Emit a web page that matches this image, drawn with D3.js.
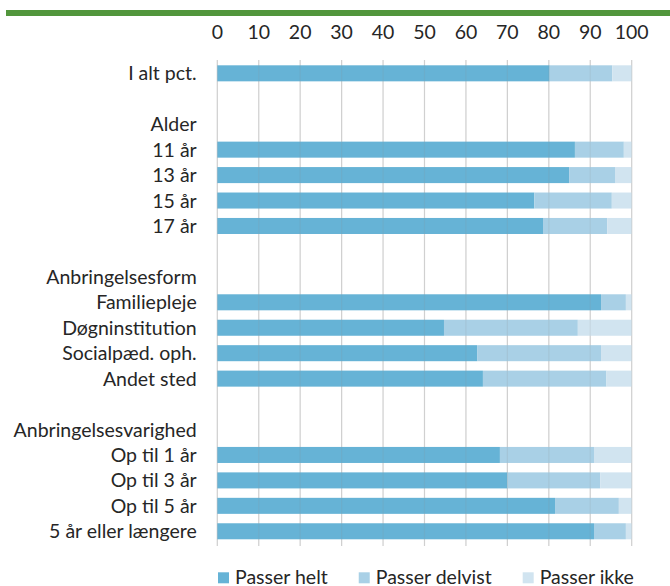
<!DOCTYPE html>
<html>
<head>
<meta charset="utf-8">
<script src="https://cdn.jsdelivr.net/npm/d3@7"></script>
<style>
  body { margin: 0; background: #fff; }
  text { font-family: Lato, "Open Sans", sans-serif; fill: #262626; }
</style>
</head>
<body>
<svg class="chart" width="670" height="586"></svg>
<script>
// rows, top to bottom; headings and blank spacer rows have no values
const labels = ["I alt pct.", "", "Alder", "11 år", "13 år", "15 år", "17 år", "",
  "Anbringelsesform", "Familiepleje", "Døgninstitution", "Socialpæd. oph.", "Andet sted", "",
  "Anbringelsesvarighed", "Op til 1 år", "Op til 3 år", "Op til 5 år", "5 år eller længere"];

const passerHelt    = [80.2, null, null, 86.3, 84.9, 76.5, 78.6, null, null, 92.6, 54.7, 62.7, 64.1, null, null, 68.2, 70.0, 81.5, 90.9];
const passerDelvist = [15.1, null, null, 11.8, 11.2, 18.7, 15.5, null, null,  6.0, 32.3, 29.9, 29.8, null, null, 22.7, 22.4, 15.4,  7.7];
const passerIkke    = [ 4.7, null, null,  1.9,  3.9,  4.8,  5.9, null, null,  1.4, 13.0,  7.4,  6.1, null, null,  9.1,  7.6,  3.1,  1.4];

const seriesNames = ["Passer helt", "Passer delvist", "Passer ikke"];
const colors = ["#66b3d6", "#a9d0e6", "#d1e4f0"];
const ticks = [0, 10, 20, 30, 40, 50, 60, 70, 80, 90, 100];

const svg = d3.select(".chart");
const width = +svg.attr("width");
const fontSize = 19.5;

// top green rule
svg.append("rect")
   .attr("x", 6).attr("y", 10)
   .attr("width", width - 6).attr("height", 6)
   .attr("fill", "#52963c");

const x = d3.scaleLinear().domain([0, 100]).range([217.3, 631.7]);
const y = d3.scaleBand()
            .domain(labels.map((d, i) => i))
            .range([60.6, 544.0])
            .paddingInner(0.37)
            .paddingOuter(0.185);

// gridlines behind
svg.append("g").selectAll("line")
   .data(ticks).join("line")
   .attr("x1", d => x(d)).attr("x2", d => x(d))
   .attr("y1", 60).attr("y2", 546)
   .attr("stroke", "#dcdcdc").attr("stroke-width", 1.2);

// stacked bars
const rows = labels.map((l, i) => ({ i, vals: [passerHelt[i], passerDelvist[i], passerIkke[i]] }))
                   .filter(r => r.vals[0] !== null);
const g = svg.append("g");
rows.forEach(r => {
  let start = 0;
  r.vals.forEach((v, k) => {
    g.append("rect")
     .attr("x", x(start))
     .attr("y", y(r.i))
     .attr("width", x(start + v) - x(start))
     .attr("height", y.bandwidth())
     .attr("fill", colors[k]);
    start += v;
  });
});

// faint gridlines showing through bars
svg.append("g").selectAll("line")
   .data(ticks).join("line")
   .attr("x1", d => x(d)).attr("x2", d => x(d))
   .attr("y1", 60).attr("y2", 546)
   .attr("stroke", "#8a8a8a").attr("stroke-opacity", 0.15).attr("stroke-width", 1.2);

// top axis labels
svg.append("g").selectAll("text")
   .data(ticks).join("text")
   .attr("x", d => x(d))
   .attr("y", 39)
   .attr("text-anchor", "middle")
   .attr("font-size", fontSize)
   .text(d => d);

// category labels
svg.append("g").selectAll("text")
   .data(labels.map((l, i) => ({ l, i })).filter(d => d.l !== ""))
   .join("text")
   .attr("x", 196.7)
   .attr("y", d => y(d.i) + y.bandwidth() / 2)
   .attr("dy", "0.36em")
   .attr("text-anchor", "end")
   .attr("font-size", fontSize)
   .text(d => d.l);

// legend
let lx = 218;
seriesNames.forEach((name, k) => {
  svg.append("rect")
     .attr("x", lx).attr("y", 572.3)
     .attr("width", 11).attr("height", 11)
     .attr("fill", colors[k]);
  const t = svg.append("text")
     .attr("x", lx + 17).attr("y", 583.5)
     .attr("font-size", fontSize)
     .text(name);
  lx += 17 + t.node().getComputedTextLength() + 31;
});
</script>
</body>
</html>
